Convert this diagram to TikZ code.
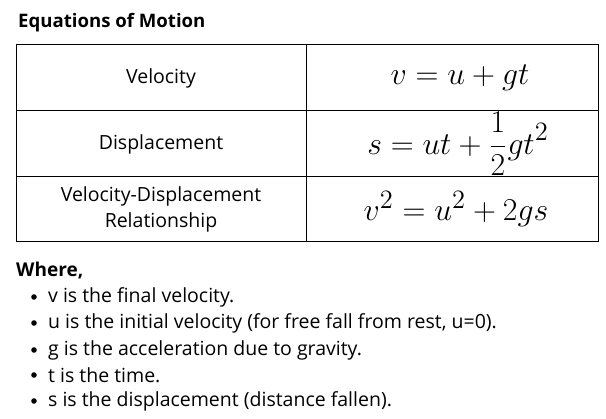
\documentclass[tikz,border=0pt]{standalone}
\usepackage{fontspec}
\setmainfont{Open Sans}
\begin{document}
\begin{tikzpicture}[x=1pt,y=-1pt,
  txt/.style={inner sep=0pt,font=\fontsize{19.5}{24}\selectfont,align=center},
  mth/.style={inner sep=0pt,font=\fontsize{19}{22}\selectfont},
  bul/.style={inner sep=0pt,anchor=west,font=\fontsize{19.5}{24}\selectfont}]
\useasboundingbox (0,0) rectangle (606,419);
\node[anchor=west,inner sep=0pt,font=\fontsize{18.6}{22}\selectfont\bfseries] (title) at (18,23) {Equations of Motion};
\draw[line width=1pt] (16,45) rectangle (598,242);
\draw[line width=1pt] (16,111) -- (598,111) (16,177) -- (598,177) (306,45) -- (306,242);
\node[txt] (r1) at (161,78) {Velocity};
\node[txt] (r2) at (161,144) {Displacement};
\node[txt,font=\fontsize{19.5}{26}\selectfont] (r3) at (161,209) {Velocity-Displacement\\Relationship};
\node[mth] (e1) at (460,78) {\scalebox{1.84}{$v = u + gt$}};
\node[mth] (e2) at (458,144) {\scalebox{1.84}{$\displaystyle s = ut + \frac{1}{2}gt^2$}};
\node[mth] (e3) at (456,209) {\scalebox{1.84}{$v^2 = u^2 + 2gs$}};
\node[anchor=west,inner sep=0pt,font=\fontsize{19}{22}\selectfont\bfseries] (where) at (16,271) {Where,};
\foreach \y/\t [count=\i] in {297/{v is the final velocity.},323/{u is the initial velocity (for free fall from rest, u=0).},350/{g is the acceleration due to gravity.},375/{t is the time.},401/{s is the displacement (distance fallen).}}{
  \fill (34,\y) circle (2.8);
  \node[bul] (b\i) at (48,\y) {\t};
}
\end{tikzpicture}
\end{document}
